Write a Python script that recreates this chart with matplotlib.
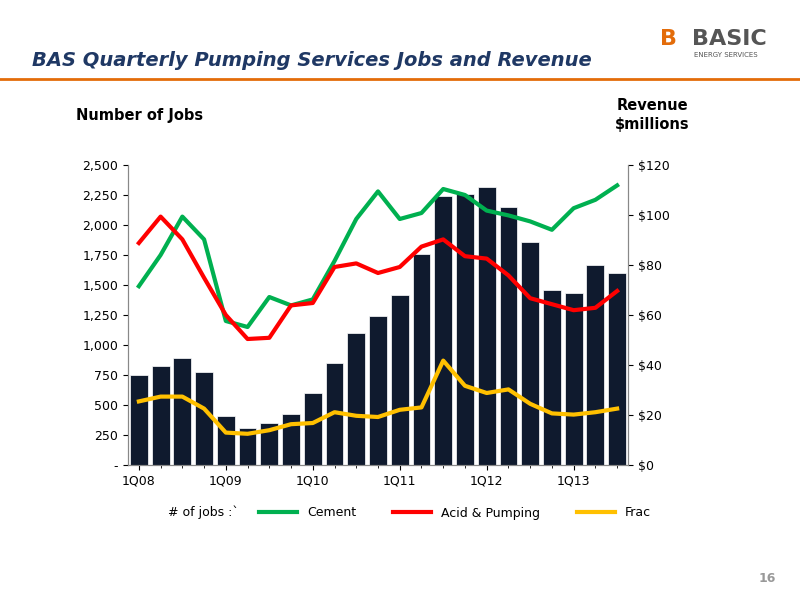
import matplotlib
matplotlib.use("Agg")
import matplotlib.pyplot as plt
import numpy as np

quarters = ["1Q08","2Q08","3Q08","4Q08","1Q09","2Q09","3Q09","4Q09","1Q10","2Q10","3Q10","4Q10",
            "1Q11","2Q11","3Q11","4Q11","1Q12","2Q12","3Q12","4Q12","1Q13","2Q13","3Q13"]
revenue = [36,39.8,42.7,37.2,19.7,14.9,17,20.6,28.8,40.8,52.8,59.5,67.9,84.5,107.5,108.5,111.4,103.2,89.3,70,69,80,76.8]
cement = [1490,1750,2070,1880,1200,1150,1400,1330,1380,1700,2050,2280,2050,2100,2300,2250,2120,2080,2030,1960,2140,2210,2330]
acid = [1850,2070,1880,1560,1250,1050,1060,1330,1350,1650,1680,1600,1650,1820,1880,1740,1720,1580,1390,1340,1290,1310,1450]
frac = [530,570,570,470,270,260,290,340,350,440,410,400,460,480,870,660,600,630,510,430,420,440,470]

fig = plt.figure(figsize=(8,6), dpi=100)
fig.text(0.04, 0.89, "BAS Quarterly Pumping Services Jobs and Revenue", fontsize=14, fontweight="bold",
         style="italic", color="#1F3864")
fig.add_artist(plt.Line2D([0.0,1.0],[0.868,0.868], color="#E36C0A", lw=2))
fig.text(0.865, 0.925, "BASIC", fontsize=16, fontweight="bold", color="#555555")
fig.text(0.868, 0.905, "ENERGY SERVICES", fontsize=5, color="#555555")
fig.text(0.825, 0.925, "B", fontsize=16, fontweight="bold", color="#E36C0A")
fig.text(0.97, 0.03, "16", fontsize=9, fontweight="bold", color="#999999", ha="right")
fig.text(0.095, 0.80, "Number of Jobs", fontsize=10.5, fontweight="bold")
fig.text(0.815, 0.785, "Revenue\n$millions", fontsize=10.5, fontweight="bold", ha="center", linespacing=1.3)

ax = fig.add_axes([0.16, 0.225, 0.625, 0.50])
ax2 = ax.twinx()
x = np.arange(len(quarters))
ax2.bar(x, revenue, width=0.82, color="#0F1A2E", edgecolor="white", lw=0.5, zorder=1)
ax2.set_ylim(0,120)
ax2.set_yticks(range(0,121,20))
ax2.set_yticklabels([f"${v}" for v in range(0,121,20)])
ax.set_zorder(ax2.get_zorder()+1); ax.patch.set_visible(False)
l1, = ax.plot(x, cement, color="#00B050", lw=3)
l2, = ax.plot(x, acid, color="#FF0000", lw=3)
l3, = ax.plot(x, frac, color="#FFC000", lw=3)
ax.set_ylim(0,2500)
ax.set_yticks(range(0,2501,250))
ax.set_yticklabels(["-"]+[f"{v:,}" for v in range(250,2501,250)])
ax.set_xlim(-0.5, len(quarters)-0.5)
ax.set_xticks(x[::4]); ax.set_xticklabels(quarters[::4])
ax.set_xticks(x, minor=True)
for a in (ax, ax2):
    a.spines["top"].set_visible(False)
    a.tick_params(labelsize=9)
    for s in ["left","right","bottom"]:
        a.spines[s].set_color("#888888")
fig.text(0.21, 0.14, "# of jobs :`", fontsize=9)
fig.legend([l1,l2,l3], ["Cement","Acid & Pumping","Frac"], loc="center left", bbox_to_anchor=(0.31,0.145),
           ncol=3, frameon=False, fontsize=9, handlelength=3, columnspacing=3)
fig.savefig("out.png")
